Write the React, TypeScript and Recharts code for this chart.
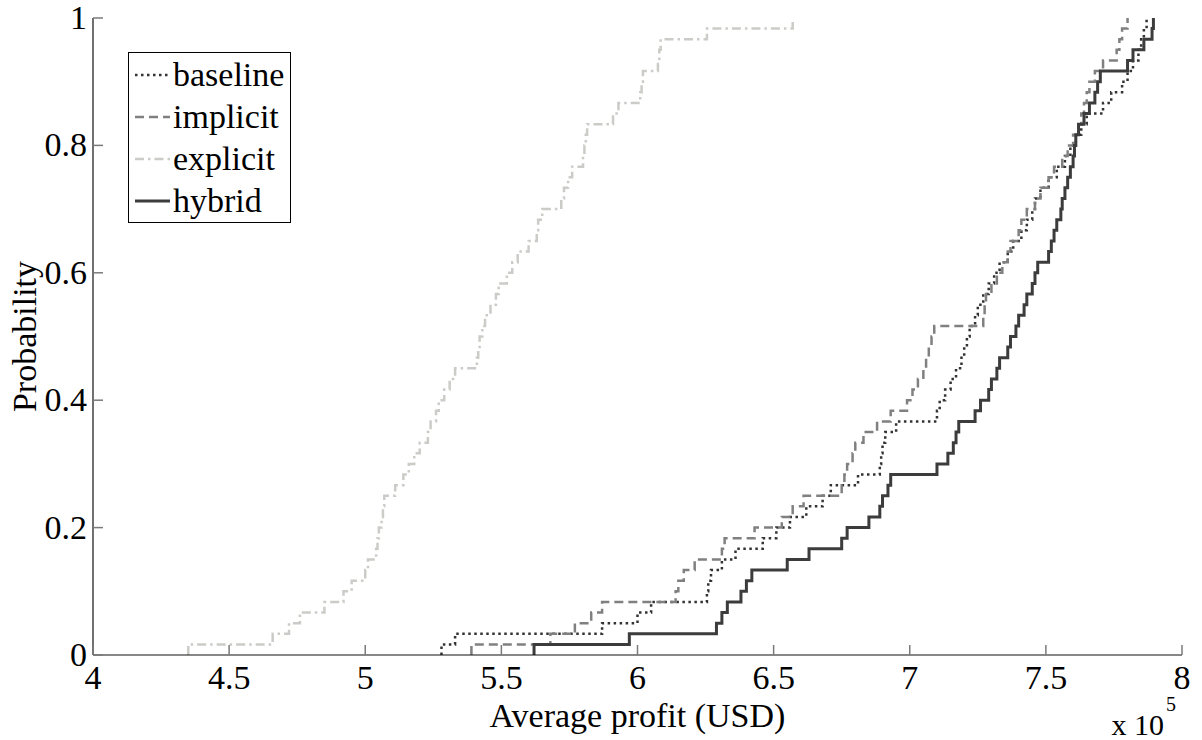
import React from "react";
import { Legend, Line, LineChart, XAxis, YAxis } from "recharts";

// sorted samples per method (x 10^5 USD), 60 runs each -> empirical CDF
const baseline = [
  5.28, 5.33, 5.87, 6.0, 6.05, 6.255, 6.26, 6.27, 6.31, 6.36,
  6.46, 6.51, 6.56, 6.62, 6.68, 6.71, 6.81, 6.89, 6.895, 6.9,
  6.91, 6.95, 7.1, 7.11, 7.13, 7.15, 7.17, 7.19, 7.2, 7.21,
  7.22, 7.24, 7.25, 7.27, 7.29, 7.31, 7.33, 7.36, 7.38, 7.41,
  7.43, 7.45, 7.46, 7.48, 7.51, 7.54, 7.57, 7.59, 7.61, 7.63,
  7.65, 7.71, 7.74, 7.78, 7.8, 7.82, 7.84, 7.85, 7.86, 7.87,
];
const implicit = [
  5.39, 5.68, 5.77, 5.83, 5.87, 6.14, 6.15, 6.17, 6.21, 6.31,
  6.32, 6.43, 6.53, 6.57, 6.61, 6.75, 6.76, 6.77, 6.79, 6.8,
  6.83, 6.88, 6.93, 6.99, 7.01, 7.03, 7.05, 7.06, 7.07, 7.08,
  7.09, 7.27, 7.275, 7.28, 7.3, 7.32, 7.34, 7.36, 7.37, 7.4,
  7.41, 7.43, 7.46, 7.48, 7.51, 7.53, 7.56, 7.58, 7.6, 7.62,
  7.63, 7.64, 7.65, 7.66, 7.68, 7.71, 7.76, 7.77, 7.78, 7.8,
];
const explicit = [
  4.35, 4.66, 4.72, 4.76, 4.85, 4.92, 4.95, 5.0, 5.01, 5.04,
  5.045, 5.05, 5.06, 5.065, 5.07, 5.11, 5.14, 5.16, 5.18, 5.2,
  5.23, 5.24, 5.26, 5.27, 5.29, 5.31, 5.33, 5.41, 5.415, 5.42,
  5.43, 5.44, 5.46, 5.48, 5.49, 5.52, 5.54, 5.56, 5.6, 5.63,
  5.635, 5.65, 5.72, 5.73, 5.745, 5.76, 5.8, 5.805, 5.81, 5.815,
  5.91, 5.93, 6.01, 6.015, 6.02, 6.075, 6.08, 6.085, 6.255, 6.57,
];
const hybrid = [
  5.62, 5.97, 6.29, 6.31, 6.33, 6.38, 6.4, 6.42, 6.55, 6.63,
  6.75, 6.77, 6.85, 6.89, 6.9, 6.92, 6.93, 7.1, 7.14, 7.16,
  7.17, 7.18, 7.24, 7.26, 7.29, 7.3, 7.32, 7.33, 7.36, 7.37,
  7.39, 7.4, 7.42, 7.43, 7.45, 7.46, 7.47, 7.51, 7.52, 7.53,
  7.54, 7.555, 7.56, 7.57, 7.58, 7.59, 7.6, 7.605, 7.61, 7.62,
  7.64, 7.66, 7.68, 7.69, 7.7, 7.8, 7.82, 7.86, 7.89, 7.895,
];

const xTicks = [4, 4.5, 5, 5.5, 6, 6.5, 7, 7.5, 8];
const yTicks = [0, 0.2, 0.4, 0.6, 0.8, 1];

const FONT = "'Times New Roman', 'Liberation Serif', Tinos, 'DejaVu Serif', serif";
const TICK = "#7a7a7a";
const txt = { fontFamily: FONT, fill: "#000" };

const series = [
  { name: "baseline", values: baseline, color: "#333333", dash: "2.5 3.5", width: 2.5 },
  { name: "implicit", values: implicit, color: "#808080", dash: "9 5", width: 2.5 },
  { name: "explicit", values: explicit, color: "#cbcbc8", dash: "9 4 2.5 4", width: 2.5 },
  { name: "hybrid", values: hybrid, color: "#3c3c3c", dash: undefined, width: 3 },
];

const toCdf = (xs: number[]) => [
  { x: xs[0], y: 0 },
  ...xs.map((x, i) => ({ x, y: (i + 1) / xs.length })),
];

const BottomTick = ({ x, y, payload }: any) => (
  <g>
    <line x1={x} x2={x} y1={y} y2={y - 10} stroke={TICK} strokeWidth={1.5} />
    <text x={x} y={y + 34} textAnchor="middle" fontSize={34} style={txt}>
      {payload.value}
    </text>
  </g>
);

const TopTick = ({ x, y }: any) => (
  <line x1={x} x2={x} y1={y} y2={y + 10} stroke={TICK} strokeWidth={1.5} />
);

const LeftTick = ({ x, y, payload }: any) => (
  <g>
    <line x1={x} x2={x + 10} y1={y} y2={y} stroke={TICK} strokeWidth={1.5} />
    <text x={x - 6} y={y + 11} textAnchor="end" fontSize={34} style={txt}>
      {payload.value}
    </text>
  </g>
);

const RightTick = ({ x, y }: any) => (
  <line x1={x} x2={x - 10} y1={y} y2={y} stroke={TICK} strokeWidth={1.5} />
);

const XLabel = ({ viewBox }: any) => {
  const { x, y, width } = viewBox;
  return (
    <g>
      <text x={x + width / 2} y={y + 72} textAnchor="middle" fontSize={34} style={txt}>
        Average profit (USD)
      </text>
      <text x={x + width - 18} y={y + 80} textAnchor="end" fontSize={30} style={txt}>
        x 10
      </text>
      <text x={x + width - 16} y={y + 56} textAnchor="start" fontSize={20} style={txt}>
        5
      </text>
    </g>
  );
};

const YLabel = ({ viewBox }: any) => {
  const { y, height } = viewBox;
  const cy = y + height / 2;
  return (
    <text
      transform={`translate(36, ${cy}) rotate(-90)`}
      textAnchor="middle"
      fontSize={34}
      style={txt}
    >
      Probability
    </text>
  );
};

const LegendBox = () => (
  <svg width={163} height={171} style={{ display: "block" }}>
    <rect x={0.5} y={0.5} width={162} height={170} fill="#fff" stroke="#000" strokeWidth={1} />
    {series.map((s, i) => {
      const cy = 23 + i * 42;
      return (
        <g key={s.name}>
          <line
            x1={7}
            x2={42}
            y1={cy}
            y2={cy}
            stroke={s.color}
            strokeWidth={s.width}
            strokeDasharray={s.dash}
          />
          <text x={45} y={cy + 11} fontSize={34} style={txt}>
            {s.name}
          </text>
        </g>
      );
    })}
  </svg>
);

export default function App() {
  return (
    <div style={{ position: "absolute", left: 0, top: 0, background: "#fff" }}>
      <LineChart width={1202} height={740} margin={{ top: 18, right: 20, bottom: 0, left: 0 }}>
        <XAxis
          dataKey="x"
          type="number"
          domain={[4, 8]}
          ticks={xTicks}
          allowDataOverflow
          height={85}
          tickSize={0}
          tickMargin={0}
          tick={<BottomTick />}
          axisLine={{ stroke: "#111", strokeWidth: 1.2 }}
          label={XLabel}
        />
        <XAxis
          xAxisId="top"
          orientation="top"
          dataKey="x"
          type="number"
          domain={[4, 8]}
          ticks={xTicks}
          allowDataOverflow
          height={0}
          tickSize={0}
          tickMargin={0}
          tick={<TopTick />}
          axisLine={{ stroke: "#111", strokeWidth: 1.2 }}
        />
        <YAxis
          type="number"
          domain={[0, 1]}
          ticks={yTicks}
          allowDataOverflow
          width={93}
          tickSize={0}
          tickMargin={0}
          tick={<LeftTick />}
          axisLine={{ stroke: "#111", strokeWidth: 1.2 }}
          label={YLabel}
        />
        <YAxis
          yAxisId="right"
          orientation="right"
          type="number"
          domain={[0, 1]}
          ticks={yTicks}
          allowDataOverflow
          width={0}
          tickSize={0}
          tickMargin={0}
          tick={<RightTick />}
          axisLine={{ stroke: "#111", strokeWidth: 1.2 }}
        />
        <Legend
          layout="vertical"
          align="center"
          verticalAlign="middle"
          content={<LegendBox />}
          wrapperStyle={{ left: 128, top: 52, width: 163, height: 171 }}
        />
        {series.map((s) => (
          <Line
            key={s.name}
            name={s.name}
            data={toCdf(s.values)}
            dataKey="y"
            type="stepAfter"
            stroke={s.color}
            strokeWidth={s.width}
            strokeDasharray={s.dash}
            dot={false}
            activeDot={false}
            isAnimationActive={false}
          />
        ))}
      </LineChart>
    </div>
  );
}
